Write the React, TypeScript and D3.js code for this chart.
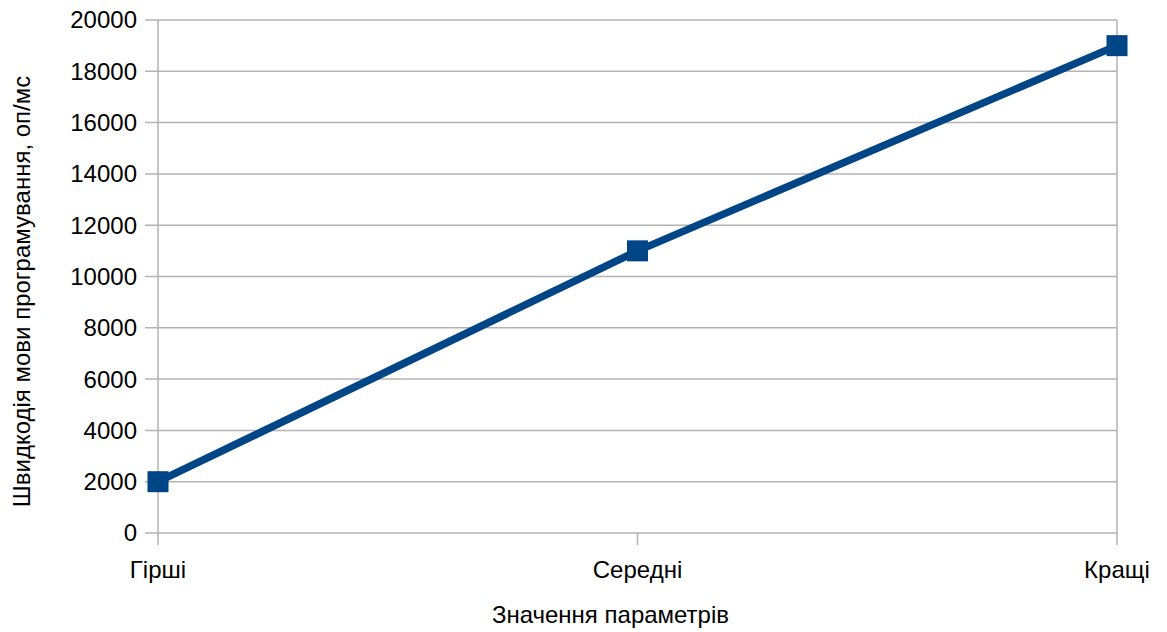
import React from "react";
import * as d3 from "d3";

const categories = ["Гірші", "Середні", "Кращі"];
const speeds = [2000, 11000, 19000];
const yTicks = [0, 2000, 4000, 6000, 8000, 10000, 12000, 14000, 16000, 18000, 20000];
const yTitle = "Швидкодія мови програмування, оп/мс";
const xTitle = "Значення параметрів";

const W = 1167;
const H = 632;
const M = { left: 158, right: 50, top: 20, bottom: 99 };
const FONT = "'Liberation Sans', Arial, sans-serif";
const GRID = "#b3b3b3";
const LINE = "#004586";

export default function App() {
  const x = d3
    .scalePoint<string>()
    .domain(categories)
    .range([M.left, W - M.right]);
  const y = d3
    .scaleLinear()
    .domain([0, 20000])
    .range([H - M.bottom, M.top]);

  const pts = categories.map((c, i) => [x(c) as number, y(speeds[i])] as [number, number]);
  const path = d3.line()(pts) || "";
  const bottom = y(0);
  const ms = 21;
  const first = categories[0];
  const last = categories[categories.length - 1];

  return (
    <svg
      width={W}
      height={H}
      style={{ position: "absolute", left: 0, top: 0, background: "#fff" }}
      fontFamily={FONT}
    >
      {yTicks.map((t) => (
        <g key={t}>
          <line x1={M.left - 13} x2={W - M.right} y1={y(t)} y2={y(t)} stroke={GRID} strokeWidth={1.5} />
          <text x={M.left - 21} y={y(t)} dy="0.35em" textAnchor="end" fontSize={24} fill="#000">
            {t}
          </text>
        </g>
      ))}
      {categories.map((c) => {
        const edge = c === first || c === last;
        return (
          <g key={c}>
            <line
              x1={x(c)}
              x2={x(c)}
              y1={edge ? M.top : bottom}
              y2={bottom + 12}
              stroke={GRID}
              strokeWidth={1.5}
            />
            <text x={x(c)} y={bottom + 37} dy="0.35em" textAnchor="middle" fontSize={24} fill="#000">
              {c}
            </text>
          </g>
        );
      })}
      <path d={path} fill="none" stroke={LINE} strokeWidth={7.5} strokeLinejoin="round" />
      {pts.map(([px, py], i) => (
        <rect key={i} x={px - ms / 2} y={py - ms / 2} width={ms} height={ms} fill={LINE} />
      ))}
      <text
        transform={`translate(22, ${(M.top + bottom) / 2 + 15}) rotate(-90)`}
        dy="0.35em"
        textAnchor="middle"
        fontSize={24}
        fill="#000"
      >
        {yTitle}
      </text>
      <text x={(M.left + W - M.right) / 2 - 27} y={615} dy="0.35em" textAnchor="middle" fontSize={24} fill="#000">
        {xTitle}
      </text>
    </svg>
  );
}
